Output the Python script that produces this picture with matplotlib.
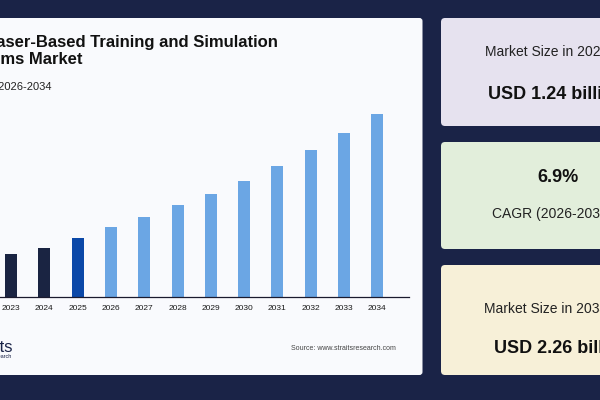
import matplotlib
matplotlib.use('Agg')
import matplotlib.pyplot as plt
from matplotlib.patches import FancyBboxPatch

plt.rcParams['font.family'] = ['Liberation Sans', 'DejaVu Sans']

# ---- data (USD billion) ----
years = [2023, 2024, 2025, 2026, 2027, 2028, 2029, 2030, 2031, 2032, 2033, 2034]
values = [1.11, 1.16, 1.24, 1.33, 1.41, 1.51, 1.60, 1.71, 1.83, 1.96, 2.10, 2.26]
base_year = 2025

title_line1 = 'Laser-Based Training and Simulation'
title_line2 = 'Systems Market'
subtitle = 'Forecast Period 2026-2034'
source = 'Source: www.straitsresearch.com'

card_labels = ['Market Size in 2025', 'CAGR (2026-2034)', 'Market Size in 2034']
card_values = ['USD 1.24 billion', '6.9%', 'USD 2.26 billion']

COLORS = {
    'bg': '#1a2347',
    'panel': '#f9fafd',
    'hist': '#1a2442',
    'base': '#0b48a8',
    'fcst': '#6ba6e4',
    'cards': ['#e6e2ef', '#e2eedb', '#f7f0d8'],
}

fig = plt.figure(figsize=(6, 4), dpi=100)
fig.patch.set_facecolor(COLORS['bg'])

# background canvas in pixel coordinates
bg = fig.add_axes([0, 0, 1, 1], zorder=0)
bg.set_xlim(0, 600)
bg.set_ylim(400, 0)
bg.axis('off')

bg.add_patch(FancyBboxPatch((-40, 18), 462.5, 357, boxstyle='round,pad=0,rounding_size=3',
                            facecolor=COLORS['panel'], edgecolor='none'))

card_boxes = [(18, 108), (142, 107), (265, 110)]
for (top, h), color in zip(card_boxes, COLORS['cards']):
    bg.add_patch(FancyBboxPatch((441, top), 224, h, boxstyle='round,pad=0,rounding_size=4',
                                facecolor=color, edgecolor='none'))

# title block (right-anchored since the left side is cropped)
bg.text(278, 46.5, title_line1, ha='right', va='baseline', fontsize=12,
        fontweight='bold', color='#111111')
bg.text(82, 64, title_line2, ha='right', va='baseline', fontsize=12,
        fontweight='bold', color='#111111')
bg.text(52, 90, subtitle, ha='right', va='baseline', fontsize=8, color='#222222')

bg.text(396, 349, source, ha='right', va='center', fontsize=5, color='#444444')
bg.text(13, 352, 'straits', ha='right', va='baseline', fontsize=12, color='#1a2347')
bg.text(12, 357.5, 'research', ha='right', va='baseline', fontsize=4, color='#1a2347')

# cards text
bg.text(547, 56.5, card_labels[0], ha='center', va='baseline', fontsize=10, color='#222222')
bg.text(556, 99, card_values[0], ha='center', va='baseline', fontsize=13,
        fontweight='bold', color='#111111')
bg.text(558, 181.5, card_values[1], ha='center', va='baseline', fontsize=13,
        fontweight='bold', color='#111111')
bg.text(552, 218, card_labels[1], ha='center', va='baseline', fontsize=10, color='#222222')
bg.text(546, 313, card_labels[2], ha='center', va='baseline', fontsize=10, color='#222222')
bg.text(562, 353, card_values[2], ha='center', va='baseline', fontsize=13,
        fontweight='bold', color='#111111')

# ---- bar chart ----
ax = fig.add_axes([-0.065, 0.2575, 0.7467, 0.5], zorder=1)
ax.patch.set_alpha(0)
x = list(range(len(years)))
bar_colors = [COLORS['hist'] if y < base_year else COLORS['base'] if y == base_year
              else COLORS['fcst'] for y in years]
ax.bar(x, values, width=0.36, color=bar_colors, bottom=0)
ax.set_xlim(-1.5, 11.95)
ax.set_ylim(0.755, 2.4)
for s in ['top', 'right', 'left']:
    ax.spines[s].set_visible(False)
ax.spines['bottom'].set_color('#1a1a2e')
ax.spines['bottom'].set_linewidth(0.9)
ax.set_yticks([])
ax.set_xticks(x)
ax.set_xticklabels([str(y) for y in years], fontsize=6, color='#1a1a1a')
ax.tick_params(axis='x', length=0, pad=6)

plt.savefig('out.png', dpi=100, facecolor=fig.get_facecolor())
